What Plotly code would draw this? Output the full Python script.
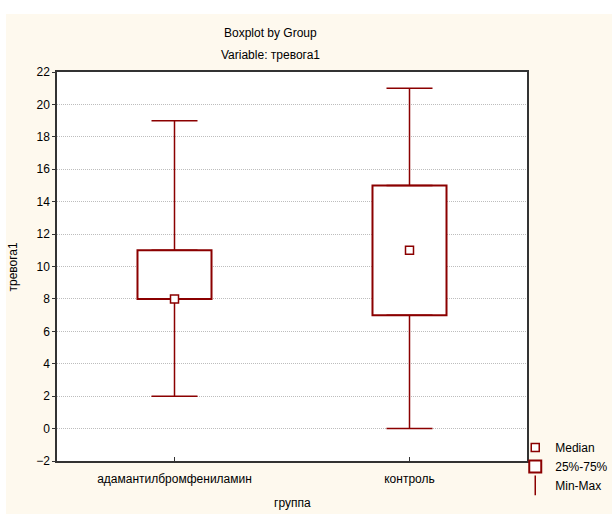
import plotly.graph_objects as go

groups = ["адамантилбромфениламин", "контроль"]
q1 = [8, 7]
median = [8, 11]
q3 = [11, 15]
vmin = [2, 0]
vmax = [19, 21]

RED = "#8B0000"
FONT = "Liberation Sans, Arial, sans-serif"

fig = go.Figure()

# box 25%-75%
fig.add_trace(go.Bar(
    x=groups, y=[b - a for a, b in zip(q1, q3)], base=q1,
    width=0.315, name="25%-75%", legendrank=2,
    marker=dict(color="white", line=dict(color=RED, width=2)),
    hoverinfo="skip",
))

# whiskers Min-Max
fig.add_trace(go.Scatter(
    x=groups + groups, y=q3 + q1, mode="markers",
    marker=dict(size=1, opacity=0),
    error_y=dict(type="data", symmetric=False,
                 array=[mx - b for mx, b in zip(vmax, q3)] + [0, 0],
                 arrayminus=[0, 0] + [a - mn for a, mn in zip(q1, vmin)],
                 color=RED, thickness=1.5, width=23),
    showlegend=False, legendgroup="mm", hoverinfo="skip",
))

# median
fig.add_trace(go.Scatter(
    x=groups, y=median, mode="markers", name="Median", legendrank=1,
    marker=dict(symbol="square", size=8, color="white",
                line=dict(color=RED, width=1.5)),
))

# legend entry for whiskers
fig.add_trace(go.Scatter(
    x=[None], y=[None], mode="markers", name="Min-Max", legendgroup="mm",
    legendrank=3,
    marker=dict(symbol="line-ns-open", size=14, color=RED,
                line=dict(color=RED, width=1.5)),
))

fig.update_layout(
    width=612, height=514,
    margin=dict(l=57, r=85, t=72, b=53, autoexpand=False),
    paper_bgcolor="#FEF9EE", plot_bgcolor="white",
    font=dict(family=FONT, size=12, color="black"),
    showlegend=True,
    legend=dict(x=0.975, xanchor="left", y=-0.1, yanchor="bottom",
                bgcolor="rgba(0,0,0,0)", traceorder="normal",
                font=dict(size=12), itemwidth=30),
    xaxis=dict(range=[-0.5, 1.5], showline=True, mirror=True,
               linecolor="#333", linewidth=1.5, ticks="inside", ticklen=4,
               tickcolor="#333", showgrid=False, ticklabelstandoff=6),
    yaxis=dict(range=[-2, 22], dtick=2, showline=True, mirror=True,
               linecolor="#333", linewidth=1.5, ticks="outside", ticklen=3,
               tickcolor="#333", showgrid=True, gridcolor="#BDBDBD",
               griddash="1px,1px", gridwidth=1, zeroline=False),
    annotations=[
        dict(text="Boxplot by Group", xref="paper", yref="paper",
             x=0.455, y=1.100, xanchor="center", yanchor="middle",
             showarrow=False, font=dict(size=12)),
        dict(text="Variable: тревога1", xref="paper", yref="paper",
             x=0.455, y=1.044, xanchor="center", yanchor="middle",
             showarrow=False, font=dict(size=12)),
        dict(text="тревога1", xref="paper", yref="paper",
             x=-0.0957, y=0.5, xanchor="center", yanchor="middle",
             textangle=-90, showarrow=False, font=dict(size=12)),
        dict(text="группа", xref="paper", yref="paper",
             x=0.5, y=-0.108, xanchor="center", yanchor="middle",
             showarrow=False, font=dict(size=12)),
    ],
    shapes=[
        dict(type="rect", xref="paper", yref="paper", x0=-0.13, x1=1.2,
             y0=1.149, y1=1.2, fillcolor="white", line=dict(width=0),
             layer="below"),
        dict(type="rect", xref="paper", yref="paper", x0=-0.13, x1=-0.1085,
             y0=-0.2, y1=1.2, fillcolor="white", line=dict(width=0),
             layer="below"),
    ],
)

fig.write_html("out.html", config={"displayModeBar": False},
               post_script="document.body.style.margin='0';document.body.style.overflow='hidden';")
